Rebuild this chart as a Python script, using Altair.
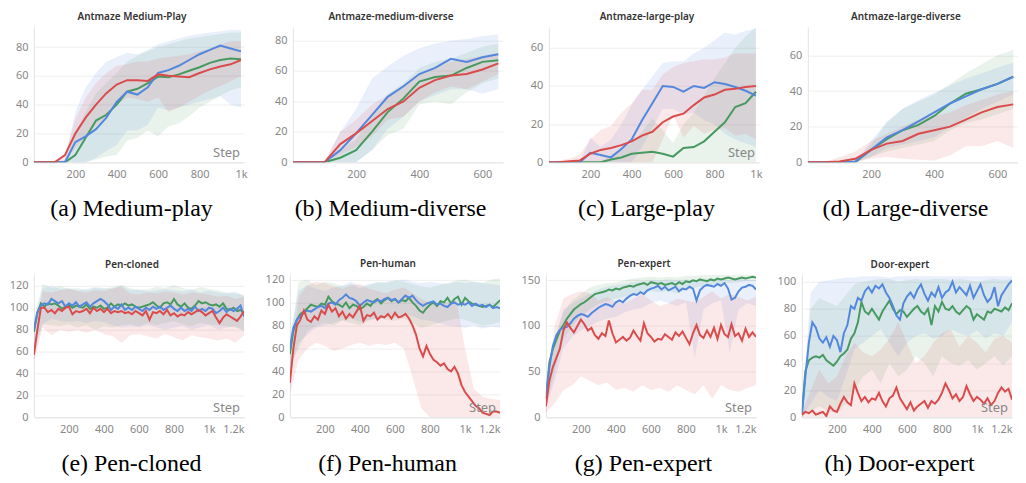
import altair as alt
import pandas as pd

SERIES = ["green", "blue", "red"]
COLORS = ["#479A5F", "#5387DD", "#DA4C4C"]

# ---------------- top row (antmaze) ----------------
A_X = [0, 50, 100, 150, 200, 250, 300, 350, 400, 450, 500, 550, 600, 650, 700, 750, 800, 850, 900, 950, 1000]
A_RED = [0, 0, 0, 5, 20, 31, 40, 48, 54, 57, 57, 56.5, 61, 60, 59.5, 59, 62, 64.5, 66.5, 68, 71]
A_GREEN = [0, 0, 0, 0, 5, 17, 29, 33, 40, 49, 51, 55, 59.5, 59, 61, 63.5, 66, 69, 71, 72, 71.5]
A_BLUE = [0, 0, 0, 0, 14, 18, 23, 31, 42, 49, 47, 52, 62, 64, 67, 71, 75, 78, 81, 79, 77]
A_RED_HI = [0, 0, 0, 5, 30, 45, 55, 62, 67, 68, 70, 70, 72, 73, 74, 75, 77, 79, 82, 84, 84]
A_RED_LO = [0, 0, 0, 0, 10, 18, 25, 32, 40, 45, 44, 42, 45, 35, 38, 42, 46, 50, 53, 56, 60]
A_GREEN_HI = [0, 0, 0, 0, 20, 35, 48, 55, 62, 70, 74, 77, 80, 82, 84, 86, 87, 88, 89, 90, 90]
A_GREEN_LO = [0, 0, 0, 0, 0, 0, 2, 4, 5, 15, 17, 22, 18, 25, 27, 32, 38, 42, 46, 50, 52]
A_BLUE_HI = [0, 0, 0, 2, 35, 52, 62, 70, 73, 76, 75, 78, 82, 84, 86, 88, 89, 90, 91, 92, 92]
A_BLUE_LO = [0, 0, 0, 0, 0, 0, 3, 8, 12, 22, 22, 26, 38, 36, 38, 40, 42, 44, 46, 40, 38]

B_X = [0, 50, 100, 150, 200, 250, 300, 350, 400, 450, 500, 550, 600, 650]
B_RED = [0, 0, 0, 12, 19, 27, 35, 40, 49, 54, 57, 58, 61, 65]
B_GREEN = [0, 0, 0, 3, 8, 20, 33, 42, 53, 56, 57, 62, 66, 67]
B_BLUE = [0, 0, 0, 8, 19, 31, 43, 50, 58, 62, 68, 66, 69, 71]
B_RED_HI = [0, 0, 0, 20, 28, 38, 44, 50, 58, 62, 66, 68, 70, 72]
B_RED_LO = [0, 0, 0, 5, 10, 17, 28, 30, 40, 46, 50, 48, 53, 58]
B_GREEN_HI = [0, 0, 0, 8, 15, 30, 45, 52, 62, 66, 68, 72, 76, 78]
B_GREEN_LO = [0, 0, 0, 0, 0, 8, 18, 22, 38, 40, 38, 46, 52, 55]
B_BLUE_HI = [0, 0, 0, 20, 35, 55, 63, 70, 75, 78, 80, 81, 83, 84]
B_BLUE_LO = [0, 0, 0, 0, 0, 8, 22, 30, 40, 44, 48, 48, 45, 48]

C_X = A_X
C_RED = [0, 0, 0.5, 1, 4.5, 6.5, 7.5, 9, 11, 14, 16, 21, 24, 25.5, 30, 34, 35.5, 38, 38.5, 39.5, 40]
C_GREEN = [0, 0, 0, 0, 0, 0, 1.5, 2.5, 4.5, 5, 5.5, 4.5, 3, 7.5, 8, 11, 16, 21, 29, 31, 37]
C_BLUE = [0, 0, 0, 0, 5, 3.8, 2.6, 7, 12, 22, 31, 40, 39.5, 37, 40, 39, 42, 41, 39.5, 37.5, 35]
C_RED_HI = [0, 1, 2, 4, 12, 17, 19, 26, 31, 38, 38, 46, 50, 52, 53, 54, 54, 55, 57, 57, 57]
C_RED_LO = [0, 0, 0, 0, 0, 0, 0, 0, 0, 0, 0, 12, 25, 13, 19, 15, 17, 18, 14, 15, 12]
C_GREEN_HI = [0, 0, 0, 0, 0, 0, 4, 7, 10, 16, 23, 17, 10, 20, 26, 35, 44, 52, 60, 66, 71]
C_GREEN_LO = [0, 0, 0, 0, 0, 0, 0, 0, 0, 0, 0, 0, 0, 0, 0, 0, 0, 0, 0, 0, 0]
C_BLUE_HI = [0, 0, 0, 0, 13, 8, 12, 20, 30, 38, 45, 52, 53, 53, 57, 60, 64, 68, 67, 69, 70]
C_BLUE_LO = [0, 0, 0, 0, 0, 0, 0, 0, 0, 8, 18, 28, 28, 25, 26, 22, 20, 15, 12, 10, 8]

D_X = B_X
D_RED = [0, 0, 0.5, 2, 7, 10.5, 12, 16, 18, 20, 24, 28, 31, 32.5]
D_GREEN = [0, 0, 0, 0, 7, 13, 18, 21, 26, 33, 38.5, 41, 44, 48]
D_BLUE = [0, 0, 0, 0.5, 7, 14, 18, 23, 28, 33, 37, 41, 44, 48]
D_RED_HI = [0, 0, 3, 6, 12, 16, 20, 24, 26, 28, 32, 35, 38, 40]
D_RED_LO = [0, 0, 0, 0, 2, 3, 2, 1.5, 1, 4, 9, 9, 12, 8]
D_GREEN_HI = [0, 0, 0, 0, 10, 22, 30, 34, 38, 44, 50, 55, 60, 63]
D_GREEN_LO = [0, 0, 0, 0, 3, 6, 8, 10, 12, 18, 22, 24, 27, 30]
D_BLUE_HI = [0, 0, 0, 0, 12, 23, 30, 35, 39, 43, 47, 50, 53, 56]
D_BLUE_LO = [0, 0, 0, 0, 3, 8, 10, 12, 14, 20, 25, 30, 34, 38]

# ---------------- bottom row (adroit) ----------------
P_X = list(range(0, 1201, 20))
PB_X = list(range(0, 1201, 50))

E_RED = [57, 80, 100, 100, 96, 98, 95, 99, 97, 100,
         101, 94, 97, 96, 97, 99, 95, 100, 97, 99,
         96, 99, 95, 97, 96, 97, 95, 96, 94, 97,
         95, 93, 97, 89, 96, 95, 97, 94, 98, 93,
         95, 92, 94, 93, 96, 94, 96, 98, 96, 93,
         95, 97, 91, 86, 91, 94, 92, 90, 88, 92,
         97]
E_GREEN = [78, 95, 104, 101, 104, 103, 104, 102, 99, 101,
           103, 100, 102, 101, 100, 103, 99, 101, 100, 102,
           99, 100, 104, 101, 103, 102, 104, 102, 103, 101,
           100, 101, 102, 103, 105, 102, 100, 104, 105, 103,
           108, 103, 101, 104, 100, 99, 102, 106, 104, 105,
           103, 102, 103, 101, 104, 99, 98, 100, 97, 98,
           95]
E_BLUE = [80, 96, 102, 104, 103, 108, 106, 104, 106, 101,
          104, 102, 105, 101, 103, 105, 101, 104, 106, 108,
          106, 103, 98, 101, 99, 103, 98, 100, 98, 101,
          99, 97, 100, 98, 101, 99, 101, 98, 100, 102,
          99, 97, 100, 97, 99, 97, 101, 97, 99, 97,
          100, 99, 95, 97, 100, 96, 99, 97, 99, 102,
          92]
E_BLUE_HI = [85, 118, 120, 117, 118, 116, 117, 119, 118, 117, 120, 116, 117, 115, 116, 117, 116, 115, 117, 114, 116, 114, 113, 115, 110]
E_BLUE_LO = [55, 85, 90, 88, 87, 88, 86, 88, 87, 84, 82, 83, 82, 84, 82, 80, 82, 83, 80, 82, 84, 80, 82, 83, 78]
E_GREEN_HI = [90, 122, 118, 120, 117, 118, 116, 118, 117, 119, 121, 118, 116, 117, 119, 118, 121, 118, 116, 119, 117, 116, 114, 113, 112]
E_GREEN_LO = [65, 85, 84, 83, 85, 82, 84, 80, 83, 82, 84, 85, 83, 86, 84, 86, 88, 85, 83, 86, 85, 84, 83, 82, 80]
E_RED_HI = [65, 115, 114, 116, 117, 115, 114, 116, 115, 118, 119, 113, 112, 114, 113, 115, 114, 112, 114, 113, 112, 110, 111, 108, 110]
E_RED_LO = [50, 82, 75, 80, 78, 80, 77, 80, 76, 74, 68, 75, 76, 74, 72, 76, 73, 70, 75, 73, 72, 70, 72, 68, 75]

F_RED = [30, 60, 80, 85, 93, 85, 83, 88, 85, 93,
         90, 98, 92, 95, 88, 92, 86, 90, 87, 92,
         97, 84, 89, 88, 91, 85, 88, 87, 90, 86,
         91, 87, 88, 90, 86, 80, 72, 60, 53, 62,
         55, 50, 48, 45, 47, 42, 40, 44, 38, 28,
         22, 18, 14, 10, 8, 4, 3, 2, 5, 5,
         4]
F_GREEN = [55, 75, 85, 90, 92, 95, 98, 97, 96, 99,
           98, 105, 101, 99, 98, 96, 100, 95, 98, 97,
           94, 96, 99, 97, 101, 103, 99, 102, 104, 101,
           103, 100, 102, 101, 104, 100, 97, 93, 91, 95,
           98, 100, 97, 101, 100, 104, 99, 103, 105, 98,
           104, 101, 99, 98, 97, 96, 97, 98, 96, 99,
           102]
F_BLUE = [60, 78, 85, 88, 91, 93, 92, 94, 96, 97,
          95, 99, 100, 98, 102, 104, 107, 104, 103, 101,
          97, 100, 102, 101, 100, 102, 101, 103, 104, 102,
          103, 100, 103, 106, 104, 106, 102, 99, 97, 99,
          100, 101, 98, 99, 97, 96, 99, 100, 98, 99,
          98, 100, 97, 99, 97, 98, 96, 98, 95, 96,
          95]
F_BLUE_HI = [70, 110, 115, 112, 110, 113, 115, 118, 114, 116, 117, 118, 119, 120, 118, 117, 118, 117, 116, 118, 117, 118, 117, 116, 115]
F_BLUE_LO = [40, 65, 72, 78, 80, 82, 85, 86, 83, 85, 86, 88, 87, 90, 88, 85, 84, 82, 80, 79, 78, 80, 77, 79, 78]
F_GREEN_HI = [65, 118, 120, 115, 118, 117, 114, 116, 112, 115, 118, 117, 119, 118, 116, 114, 113, 115, 117, 119, 120, 118, 117, 120, 121]
F_GREEN_LO = [45, 60, 75, 80, 82, 80, 84, 82, 80, 84, 86, 85, 84, 86, 82, 78, 80, 82, 84, 86, 85, 82, 80, 81, 83]
F_RED_HI = [40, 105, 115, 118, 117, 114, 112, 115, 116, 112, 110, 108, 111, 113, 108, 103, 100, 98, 100, 102, 60, 25, 18, 16, 15]
F_RED_LO = [20, 50, 60, 65, 62, 58, 60, 63, 65, 62, 64, 63, 65, 60, 35, 8, 0, 0, 0, 0, 0, 0, 0, 0, 0]

G_GREEN = [20, 60, 75, 85, 95, 101, 108, 113, 118, 121,
           124, 126, 129, 132, 135, 136, 137, 138, 140, 139,
           141, 140, 142, 143, 144, 143, 145, 146, 147, 145,
           148, 147, 146, 147, 145, 146, 147, 145, 148, 146,
           149, 148, 150, 149, 151, 150, 149, 151, 150, 152,
           151, 152, 153, 152, 151, 152, 153, 152, 153, 154,
           153]
G_BLUE = [20, 55, 78, 90, 96, 98, 99, 103, 108, 111,
          113, 112, 110, 114, 117, 120, 122, 124, 123, 121,
          126, 128, 126, 130, 133, 135, 134, 137, 135, 139,
          141, 142, 144, 140, 143, 139, 141, 143, 138, 141,
          140, 143, 141, 128, 139, 143, 145, 144, 143, 146,
          144, 147, 141, 129, 131, 138, 142, 143, 145, 144,
          140]
G_RED = [12, 40, 55, 65, 75, 95, 104, 98, 93, 100,
         107, 102, 95, 98, 90, 86, 92, 89, 106, 92,
         82, 85, 88, 84, 87, 95, 89, 84, 103, 92,
         88, 83, 86, 85, 91, 88, 85, 93, 89, 94,
         87, 80, 92, 101, 90, 87, 95, 88, 98, 86,
         101, 91, 88, 102, 89, 92, 84, 97, 88, 93,
         88]
G_GREEN_HI = [30, 85, 115, 128, 135, 142, 145, 147, 148, 150, 152, 153, 154, 153, 154, 153, 155, 155, 156, 156, 157, 156, 157, 157, 156]
G_GREEN_LO = [10, 50, 85, 100, 110, 118, 124, 127, 130, 132, 134, 136, 138, 137, 138, 136, 140, 142, 144, 145, 146, 147, 148, 149, 149]
G_BLUE_HI = [30, 85, 118, 125, 130, 135, 140, 143, 145, 146, 148, 149, 150, 150, 151, 150, 151, 150, 152, 151, 152, 150, 152, 151, 150]
G_BLUE_LO = [10, 40, 75, 88, 95, 100, 105, 108, 110, 115, 118, 120, 125, 128, 125, 122, 126, 65, 118, 125, 128, 70, 118, 125, 122]
G_RED_HI = [15, 100, 130, 135, 138, 136, 128, 132, 126, 125, 130, 135, 128, 122, 125, 130, 128, 126, 132, 138, 130, 135, 132, 128, 132]
G_RED_LO = [5, 15, 30, 35, 45, 40, 35, 38, 30, 32, 28, 35, 30, 32, 28, 35, 30, 25, 35, 20, 35, 30, 28, 32, 35]

H_BLUE = [2, 30, 55, 70, 66, 58, 55, 59, 52, 60,
          57, 48, 62, 68, 82, 80, 88, 86, 93, 96,
          92, 97, 95, 98, 92, 88, 82, 75, 72, 84,
          89, 92, 88, 94, 98, 91, 86, 92, 89, 96,
          88, 92, 94, 100, 92, 96, 93, 90, 97, 88,
          93, 98, 90, 85, 88, 96, 82, 90, 94, 98,
          101]
H_GREEN = [2, 34, 42, 44, 45, 44, 46, 42, 40, 38,
           41, 45, 47, 50, 58, 62, 70, 85, 78, 76,
           80, 76, 72, 78, 82, 86, 80, 76, 79, 78,
           74, 77, 80, 82, 78, 76, 80, 68, 82, 78,
           85, 80, 79, 82, 78, 76, 79, 82, 80, 72,
           76, 74, 72, 78, 77, 80, 79, 78, 81, 79,
           84]
H_RED = [2, 4, 3, 5, 2, 3, 4, 1, 8, 5,
         4, 10, 15, 11, 9, 25, 18, 12, 15, 11,
         14, 13, 18, 12, 8, 14, 16, 22, 14, 10,
         6, 11, 5, 8, 10, 12, 7, 12, 10, 13,
         18, 25, 20, 14, 17, 12, 15, 23, 17, 12,
         15, 13, 10, 14, 9, 12, 18, 22, 19, 21,
         13]
H_BLUE_HI = [5, 92, 100, 101, 102, 103, 103, 104, 104, 104, 103, 104, 104, 104, 104, 104, 104, 104, 104, 104, 104, 104, 104, 104, 104]
H_BLUE_LO = [0, 10, 20, 15, 12, 30, 50, 55, 60, 65, 55, 45, 55, 60, 62, 58, 60, 65, 62, 60, 64, 58, 62, 60, 70]
H_GREEN_HI = [5, 80, 88, 85, 82, 90, 98, 100, 101, 102, 102, 100, 101, 102, 101, 102, 102, 101, 102, 101, 100, 101, 102, 101, 102]
H_GREEN_LO = [0, 5, 8, 5, 3, 10, 20, 30, 35, 25, 40, 30, 35, 45, 40, 30, 45, 40, 38, 42, 35, 40, 45, 38, 45]
H_RED_HI = [3, 20, 35, 25, 30, 45, 55, 48, 45, 50, 58, 70, 55, 40, 45, 55, 62, 65, 52, 60, 55, 48, 58, 60, 55]
H_RED_LO = [0, 0, 0, 0, 0, 0, 0, 0, 0, 0, 0, 0, 0, 0, 0, 0, 0, 0, 0, 0, 0, 0, 0, 0, 0]

W = 211
LABEL_EXPR = "datum.value == 1000 ? '1k' : datum.value == 1200 ? '1.2k' : datum.label"


def panel(title, caption, lx, lines, bx, bands, xmax, ymax, xticks, yticks, h, step=True, flush=False):
    rows = []
    for s in SERIES:
        for x, v in zip(lx, lines[s]):
            rows.append({"step": x, "value": v, "run": s})
    ldf = pd.DataFrame(rows)
    brows = []
    for s in SERIES:
        lo, hi = bands[s]
        for x, a, b in zip(bx, lo, hi):
            brows.append({"step": x, "lo": a, "hi": b, "run": s})
    bdf = pd.DataFrame(brows)

    xscale = alt.Scale(domain=[0, xmax], nice=False, zero=False)
    yscale = alt.Scale(domain=[0, ymax], nice=False)
    color = alt.Color("run:N", scale=alt.Scale(domain=SERIES, range=COLORS), legend=None)
    xaxis = alt.Axis(values=xticks, tickCount=20, labelExpr=LABEL_EXPR, title=caption, grid=False,
                     ticks=False, labelPadding=6, labelFlush=flush, labelOverlap=False,
                     titleFont="Liberation Serif", titleFontSize=24, titleFontWeight="normal",
                     titleColor="#000000", titlePadding=17, titleX=W / 2 - 8)
    yaxis = alt.Axis(values=yticks, tickCount=20, title=None, grid=True, ticks=False, labelPadding=6,
                     labelOverlap=False, minExtent=26, maxExtent=26)

    area = alt.Chart(bdf).mark_area(opacity=0.12, clip=True).encode(
        x=alt.X("step:Q", scale=xscale, axis=xaxis),
        y=alt.Y("lo:Q", scale=yscale, axis=yaxis),
        y2="hi:Q",
        color=color,
    )
    line = alt.Chart(ldf).mark_line(strokeWidth=2, clip=True).encode(
        x=alt.X("step:Q", scale=xscale),
        y=alt.Y("value:Q", scale=yscale),
        color=color,
    )
    layers = [area, line]
    if step:
        txt = alt.Chart(pd.DataFrame({"t": ["Step"]})).mark_text(
            align="right", baseline="alphabetic", fontSize=13, color="#888888", font="Noto Sans"
        ).encode(text="t:N", x=alt.value(W - 4), y=alt.value(h - 5))
        layers.append(txt)
    return alt.layer(*layers).properties(
        width=W, height=h,
        title=alt.TitleParams(title, fontSize=10, fontWeight=600, font="Noto Sans",
                              color="#333333", offset=5, anchor="middle", dx=-7),
    )


TOP_H = 136
BOT_H = 143
top_ticks = [200, 400, 600, 800, 1000]
short_ticks = [200, 400, 600]
bot_ticks = [200, 400, 600, 800, 1000, 1200]

pa = panel("Antmaze Medium-Play", "(a)  Medium-play", A_X,
           {"green": A_GREEN, "blue": A_BLUE, "red": A_RED}, A_X,
           {"green": (A_GREEN_LO, A_GREEN_HI), "blue": (A_BLUE_LO, A_BLUE_HI), "red": (A_RED_LO, A_RED_HI)},
           1015, 94, top_ticks, [0, 20, 40, 60, 80], TOP_H)
pb = panel("Antmaze-medium-diverse", "(b)  Medium-diverse", B_X,
           {"green": B_GREEN, "blue": B_BLUE, "red": B_RED}, B_X,
           {"green": (B_GREEN_LO, B_GREEN_HI), "blue": (B_BLUE_LO, B_BLUE_HI), "red": (B_RED_LO, B_RED_HI)},
           665, 89, short_ticks, [0, 20, 40, 60, 80], TOP_H, step=False)
pc = panel("Antmaze-large-play", "(c)  Large-play", C_X,
           {"green": C_GREEN, "blue": C_BLUE, "red": C_RED}, C_X,
           {"green": (C_GREEN_LO, C_GREEN_HI), "blue": (C_BLUE_LO, C_BLUE_HI), "red": (C_RED_LO, C_RED_HI)},
           1015, 71, top_ticks, [0, 20, 40, 60], TOP_H)
pd_ = panel("Antmaze-large-diverse", "(d)  Large-diverse", D_X,
            {"green": D_GREEN, "blue": D_BLUE, "red": D_RED}, D_X,
            {"green": (D_GREEN_LO, D_GREEN_HI), "blue": (D_BLUE_LO, D_BLUE_HI), "red": (D_RED_LO, D_RED_HI)},
            665, 76, short_ticks, [0, 20, 40, 60], TOP_H, step=False)

pe = panel("Pen-cloned", "(e)  Pen-cloned", P_X,
           {"green": E_GREEN, "blue": E_BLUE, "red": E_RED}, PB_X,
           {"green": (E_GREEN_LO, E_GREEN_HI), "blue": (E_BLUE_LO, E_BLUE_HI), "red": (E_RED_LO, E_RED_HI)},
           1200, 130, bot_ticks, [0, 20, 40, 60, 80, 100, 120], BOT_H, flush=True)
pf = panel("Pen-human", "(f)  Pen-human", P_X,
           {"green": F_GREEN, "blue": F_BLUE, "red": F_RED}, PB_X,
           {"green": (F_GREEN_LO, F_GREEN_HI), "blue": (F_BLUE_LO, F_BLUE_HI), "red": (F_RED_LO, F_RED_HI)},
           1200, 124, bot_ticks, [0, 20, 40, 60, 80, 100, 120], BOT_H, flush=True)
pg = panel("Pen-expert", "(g)  Pen-expert", P_X,
           {"green": G_GREEN, "blue": G_BLUE, "red": G_RED}, PB_X,
           {"green": (G_GREEN_LO, G_GREEN_HI), "blue": (G_BLUE_LO, G_BLUE_HI), "red": (G_RED_LO, G_RED_HI)},
           1200, 156, bot_ticks, [0, 50, 100, 150], BOT_H, flush=True)
ph = panel("Door-expert", "(h)  Door-expert", P_X,
           {"green": H_GREEN, "blue": H_BLUE, "red": H_RED}, PB_X,
           {"green": (H_GREEN_LO, H_GREEN_HI), "blue": (H_BLUE_LO, H_BLUE_HI), "red": (H_RED_LO, H_RED_HI)},
           1200, 105, bot_ticks, [0, 20, 40, 60, 80, 100], BOT_H, flush=True)

row1 = alt.hconcat(pa, pb, pc, pd_, spacing=20).resolve_scale(x="independent", y="independent")
row2 = alt.hconcat(pe, pf, pg, ph, spacing=20).resolve_scale(x="independent", y="independent")

chart = alt.vconcat(row1, row2, spacing=38).resolve_scale(
    x="independent", y="independent"
).properties(
    padding={"left": 0, "right": 0, "top": 3, "bottom": 0}, background="white"
).configure_view(
    strokeWidth=0
).configure_axis(
    labelColor="#888888", labelFont="Noto Sans", labelFontSize=11,
    domainColor="#e4e4e4", gridColor="#efefef",
)

chart.save("out.html", embed_options={"renderer": "svg", "actions": False})
